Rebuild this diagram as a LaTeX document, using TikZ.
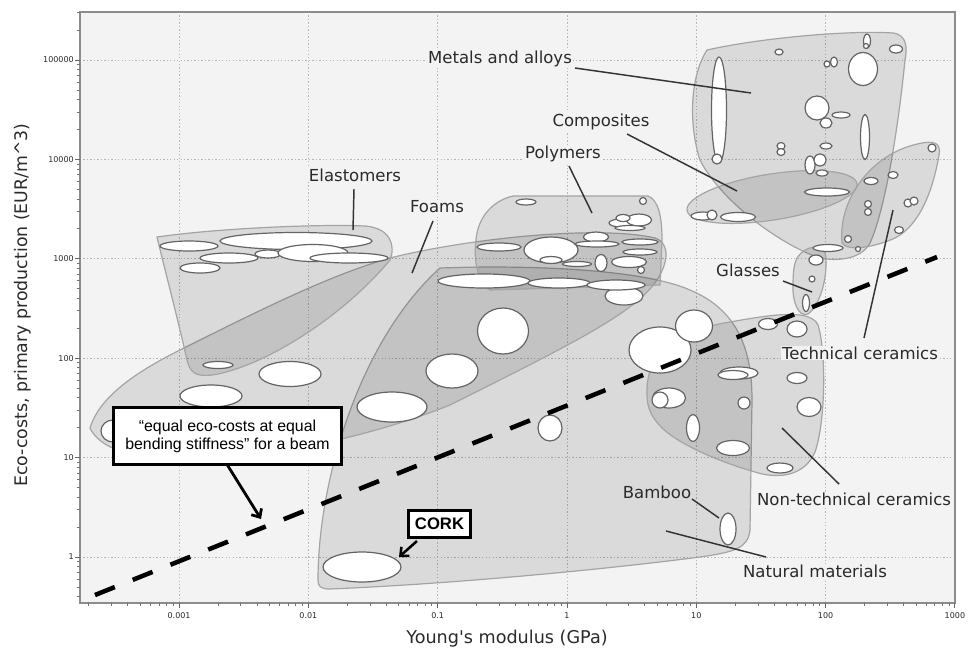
\documentclass[tikz,border=0pt]{standalone}
\usepackage{fontspec}
\setmainfont{DejaVu Sans}
\newfontfamily\arialfont{Liberation Sans}
\usetikzlibrary{arrows.meta}
\definecolor{plotbg}{HTML}{F3F3F3}
\definecolor{regline}{HTML}{A4A4A4}
\definecolor{bubline}{HTML}{646464}
\definecolor{gridc}{HTML}{B5B5B5}
\definecolor{txt}{HTML}{2A2A2A}
\newcommand\bub[4]{\draw[bubble] (#1,#2) ellipse [x radius=#3, y radius=#4];}
\tikzset{
  region/.style={fill=black, fill opacity=0.1, draw=regline, draw opacity=1, line width=0.9pt},
  bubble/.style={fill=white, draw=bubline, line width=0.9pt},
  lab/.style={font=\fontsize{12.4}{14}\selectfont, text=txt, fill=plotbg, inner sep=0.8pt},
  labnf/.style={font=\fontsize{12.4}{14}\selectfont, text=txt, inner sep=0.8pt},
  leader/.style={draw=black!80, line width=1.1pt},
  ticklab/.style={font=\fontsize{6}{7}\selectfont, text=txt, inner sep=0pt},
  gridline/.style={draw=gridc, line width=0.7pt, dash pattern=on 1pt off 1.6pt},
  callout/.style={draw=black, line width=2.6pt, fill=white, inner sep=0pt, align=center},
  ecoline/.style={draw=black, line width=3.4pt, dash pattern=on 16pt off 14.5pt},
  pointer/.style={draw=black, line width=2.1pt, -{Straight Barb[length=5pt,width=9pt]}},
}
\begin{document}
\begin{tikzpicture}[x=0.75pt,y=-0.75pt]
\useasboundingbox (0,0) rectangle (973,651);
\fill[white] (0,0) rectangle (973,651);
% plot area
\fill[plotbg] (80,12) rectangle (955,603);
% grid
\foreach \gx in {179.1,308.4,437.7,567,696.3,825.6} {\draw[gridline] (\gx,12) -- (\gx,603);}
\foreach \gy in {60,159.4,258.8,358.2,457.6,557} {\draw[gridline] (80,\gy) -- (955,\gy);}

% ---------- regions ----------
% natural materials
\draw[region] (318,580) .. controls (318,480) and (360,340) .. (440,268)
  .. controls (520,265) and (640,268) .. (690,290)
  .. controls (738,310) and (752,350) .. (752,400)
  -- (750,530) .. controls (748,548) and (735,552) .. (700,557)
  .. controls (600,570) and (450,584) .. (330,589)
  .. controls (320,589) and (318,586) .. (318,580) -- cycle;
% foams
\draw[region] (90,428) .. controls (100,395) and (140,370) .. (180,350)
  .. controls (260,310) and (330,275) .. (390,258)
  .. controls (470,238) and (600,225) .. (655,238)
  .. controls (675,245) and (665,275) .. (647,292)
  .. controls (620,320) and (560,350) .. (450,405)
  .. controls (400,425) and (350,438) .. (300,448)
  .. controls (220,463) and (110,470) .. (90,428) -- cycle;
% elastomers
\draw[region] (157,237) .. controls (220,228) and (320,224) .. (365,226)
  .. controls (390,228) and (396,245) .. (390,260)
  .. controls (340,320) and (260,368) .. (212,375)
  .. controls (195,377) and (190,372) .. (187,360)
  .. controls (178,320) and (165,270) .. (157,237) -- cycle;
% polymers
\draw[region] (513,196) -- (648,196) .. controls (658,200) and (662,215) .. (662,240)
  -- (660,285) -- (490,290) .. controls (475,280) and (474,255) .. (476,240)
  .. controls (478,215) and (495,200) .. (513,196) -- cycle;
% non-technical ceramics
\draw[region] (647,395) .. controls (645,350) and (680,330) .. (730,322)
  .. controls (770,315) and (810,308) .. (818,325)
  .. controls (826,350) and (826,420) .. (815,452)
  .. controls (805,475) and (780,480) .. (755,472)
  .. controls (720,462) and (680,445) .. (662,428)
  .. controls (652,418) and (647,408) .. (647,395) -- cycle;
% metals
\draw[region] (707,50) .. controls (760,38) and (850,30) .. (893,33)
  .. controls (908,35) and (907,50) .. (905,60)
  .. controls (898,130) and (885,210) .. (870,243)
  .. controls (862,258) and (840,262) .. (820,258)
  .. controls (780,245) and (720,200) .. (700,160)
  .. controls (690,130) and (688,80) .. (707,50) -- cycle;
% composites
\draw[region, rotate around={9:(772,197)}] (772,197) ellipse [x radius=86, y radius=23];
% technical ceramics
\draw[region] (842,243) .. controls (838,200) and (870,158) .. (910,146)
  .. controls (930,140) and (942,140) .. (939,155)
  .. controls (933,190) and (920,225) .. (895,238)
  .. controls (875,247) and (848,252) .. (842,243) -- cycle;
% glasses
\draw[region] (797,258) .. controls (805,245) and (825,242) .. (826,258)
  .. controls (827,280) and (820,305) .. (808,314)
  .. controls (798,318) and (792,300) .. (793,285)
  .. controls (793,272) and (794,264) .. (797,258) -- cycle;

% ---------- bubbles ----------
% elastomers
\bub{189}{246}{29}{5}
\bub{296}{241}{76}{8.5}
\bub{229}{258}{29}{5}
\bub{268}{254}{13}{4}
\bub{313}{253}{35}{8.5}
\bub{349}{258}{39}{5}
\bub{200}{268}{20}{5}
\bub{218}{365}{15}{3.5}
% foams
\bub{290}{374}{31}{12.5}
\bub{211}{396}{31}{11}
\bub{113}{431}{12}{11}
\bub{392}{407}{35}{15}
\bub{452}{371}{26}{17}
\bub{503}{331}{25.5}{23}
\bub{624}{296}{19}{9}
\bub{484}{281}{46}{7}
\bub{559}{283}{31}{5}
\bub{616}{285}{29}{5}
% polymers
\bub{526}{202}{10}{3}
\bub{643}{201}{3.5}{3.5}
\bub{621}{223}{12}{4}
\bub{639}{220}{12.5}{6}
\bub{623}{218}{7}{3.5}
\bub{630}{228}{15}{2.5}
\bub{499}{247}{22}{4}
\bub{551}{250}{27}{13}
\bub{551}{260}{11}{3.5}
\bub{577}{264}{14.5}{2.5}
\bub{596}{237}{12.5}{5}
\bub{597}{244}{22}{3}
\bub{601}{263}{6}{8.5}
\bub{629}{262}{17.5}{5.5}
\bub{640}{242}{18}{3}
\bub{640}{252}{17}{3}
\bub{641}{270}{3.5}{3.5}
% natural materials
\bub{362}{567}{39}{15}
\bub{550}{428}{12}{13}
\bub{728}{529}{8}{16}
\bub{660}{350}{31}{23}
\bub{694}{326}{18.5}{16}
% non-technical ceramics
\bub{669}{398}{16.5}{10}
\bub{660}{400}{8}{8}
\bub{693}{428}{6.5}{13.5}
\bub{739}{373}{19}{6}
\bub{733}{375}{15}{4.5}
\bub{744}{403}{6}{6}
\bub{733}{448}{16.5}{7.5}
\bub{780}{468}{13}{5}
\bub{797}{329}{10}{8}
\bub{797}{378}{10}{5.5}
\bub{809}{407}{12}{9.5}
\bub{768}{324}{9.5}{5.5}
% glasses
\bub{816}{260}{7}{5}
\bub{812}{279}{3}{3}
\bub{806}{303}{3.5}{8.5}
% metals
\bub{719}{110}{7.5}{53}
\bub{717}{159}{5}{5}
\bub{779}{52}{4}{3}
\bub{827}{64}{3}{3}
\bub{834}{62}{3.5}{5}
\bub{863}{69}{14.5}{16.5}
\bub{867}{41}{3.5}{7}
\bub{866}{46}{2.5}{2.5}
\bub{896}{49}{6.5}{4}
\bub{817}{108}{12}{12}
\bub{826}{123}{6}{5}
\bub{841}{115}{9}{3}
\bub{865}{137}{4.5}{22.5}
\bub{781}{146}{4}{3.5}
\bub{781}{152}{4}{3.5}
\bub{826}{146}{6}{3}
\bub{810}{165}{5}{9}
\bub{820}{160}{6}{6}
\bub{822}{173}{6}{3}
\bub{827}{192}{22.5}{4}
\bub{828}{248}{15}{3.5}
% composites
\bub{703}{216}{12}{4}
\bub{712}{215}{5}{5}
\bub{738}{217}{17.5}{4.5}
% technical ceramics
\bub{932}{148}{4}{4}
\bub{893}{175}{5}{3.5}
\bub{871}{181}{7}{3.5}
\bub{908}{203}{4}{4}
\bub{914}{201}{4}{4}
\bub{868}{204}{3.5}{3.5}
\bub{868}{212}{3.5}{3.5}
\bub{899}{230}{4.5}{3.5}
\bub{848}{239}{3.5}{3.5}
\bub{858}{249}{2.5}{2.5}

% ---------- equal eco-cost line ----------
\coordinate (d0) at (95,595);
\coordinate (d1) at (937,257);
\draw[ecoline] (d0) -- (d1);

% ---------- labels ----------
\node[lab] (metals) at (500,59) {Metals and alloys};
\node[lab] (compos) at (601,122) {Composites};
\node[lab] (polym) at (563,154) {Polymers};
\node[lab] (elast) at (355,175) {Elastomers};
\node[lab] (foams) at (437,207) {Foams};
\node[lab] (glass) at (748,270) {Glasses};
\node[lab] (techc) at (860,353) {Technical ceramics};
\node[lab] (ntech) at (854,499) {Non-technical ceramics};
\node[labnf] (bamboo) at (657,492) {Bamboo};
\node[lab] (natur) at (815,571) {Natural materials};

\coordinate (m0) at (575,68);  \coordinate (m1) at (751,93);
\coordinate (c0) at (627,134); \coordinate (c1) at (737,191);
\coordinate (p0) at (569,166); \coordinate (p1) at (592,213);
\coordinate (e0) at (354,189); \coordinate (e1) at (353,230);
\coordinate (f0) at (433,221); \coordinate (f1) at (412,273);
\coordinate (g0) at (783,281); \coordinate (g1) at (812,292);
\coordinate (t0) at (864,338); \coordinate (t1) at (893,210);
\coordinate (n0) at (839,484); \coordinate (n1) at (782,428);
\coordinate (b0) at (692,499); \coordinate (b1) at (719,518);
\coordinate (a0) at (766,557); \coordinate (a1) at (666,531);
\draw[leader] (m0) -- (m1);
\draw[leader] (c0) -- (c1);
\draw[leader] (p0) -- (p1);
\draw[leader] (e0) -- (e1);
\draw[leader] (f0) -- (f1);
\draw[leader] (g0) -- (g1);
\draw[leader] (t0) -- (t1);
\draw[leader] (n0) -- (n1);
\draw[leader] (b0) -- (b1);
\draw[leader] (a0) -- (a1);

% ---------- callout boxes ----------
\node[callout, minimum width=171pt, minimum height=42.75pt,
      font=\arialfont\fontsize{11.9}{13.5}\selectfont] (eco) at (227.5,436)
  {“equal eco-costs at equal\\ bending stiffness” for a beam};
\coordinate (ecotip) at (261,519);
\draw[pointer] (eco.south) ++(0,-1) -- (ecotip);
\node[callout, line width=2.4pt, minimum width=46.5pt, minimum height=20.25pt,
      font=\arialfont\bfseries\fontsize{12.5}{14}\selectfont] (cork) at (439.5,524) {CORK};
\coordinate (corkfrom) at (417,541);
\coordinate (corktip) at (399,557);
\draw[pointer, line width=1.9pt] (corkfrom) -- (corktip);

% ---------- frame and ticks ----------
\draw[draw=black!45, line width=0.9pt] (80,12) rectangle (955,603);
\begin{scope}
\clip (79,603) rectangle (956,612);
\foreach \dd in {-4,...,2} {
  \foreach \kk in {2,...,9} {
    \pgfmathsetmacro\xx{567+129.3*(\dd+log10(\kk))}
    \draw[black!55, line width=0.6pt] (\xx,603) -- (\xx,606);
  }
}
\end{scope}
\begin{scope}
\clip (70,11) rectangle (80,604);
\foreach \dd in {-1,...,5} {
  \foreach \kk in {2,...,9} {
    \pgfmathsetmacro\yy{557-99.4*(\dd+log10(\kk))}
    \draw[black!55, line width=0.6pt] (80,\yy) -- (77,\yy);
  }
}
\end{scope}
\foreach \gx in {179.1,308.4,437.7,567,696.3,825.6,954.9} {\draw[black!60, line width=0.7pt] (\gx,603) -- (\gx,608);}
\foreach \gy in {60,159.4,258.8,358.2,457.6,557} {\draw[black!60, line width=0.7pt] (80,\gy) -- (75,\gy);}

% tick labels
\node[ticklab, anchor=east] (y1) at (74,557) {1};
\node[ticklab, anchor=east] (y2) at (74,457.6) {10};
\node[ticklab, anchor=east] (y3) at (74,358.2) {100};
\node[ticklab, anchor=east] (y4) at (74,258.8) {1000};
\node[ticklab, anchor=east] (y5) at (74,159.4) {10000};
\node[ticklab, anchor=east] (y6) at (74,60) {100000};
\node[ticklab] (x1) at (179.1,616) {0.001};
\node[ticklab] (x2) at (308.4,616) {0.01};
\node[ticklab] (x3) at (437.7,616) {0.1};
\node[ticklab] (x4) at (567,616) {1};
\node[ticklab] (x5) at (696.3,616) {10};
\node[ticklab] (x6) at (825.6,616) {100};
\node[ticklab] (x7) at (954.9,616) {1000};

% axis titles
\node[font=\fontsize{13.2}{15}\selectfont, text=txt, inner sep=0pt] (xtitle) at (507,639) {Young\textquotesingle s modulus (GPa)};
\node[font=\fontsize{13}{15}\selectfont, text=txt, inner sep=0pt, rotate=90] (ytitle) at (23,305) {Eco-costs, primary production (EUR/m\^{}3)};
\end{tikzpicture}
\end{document}
